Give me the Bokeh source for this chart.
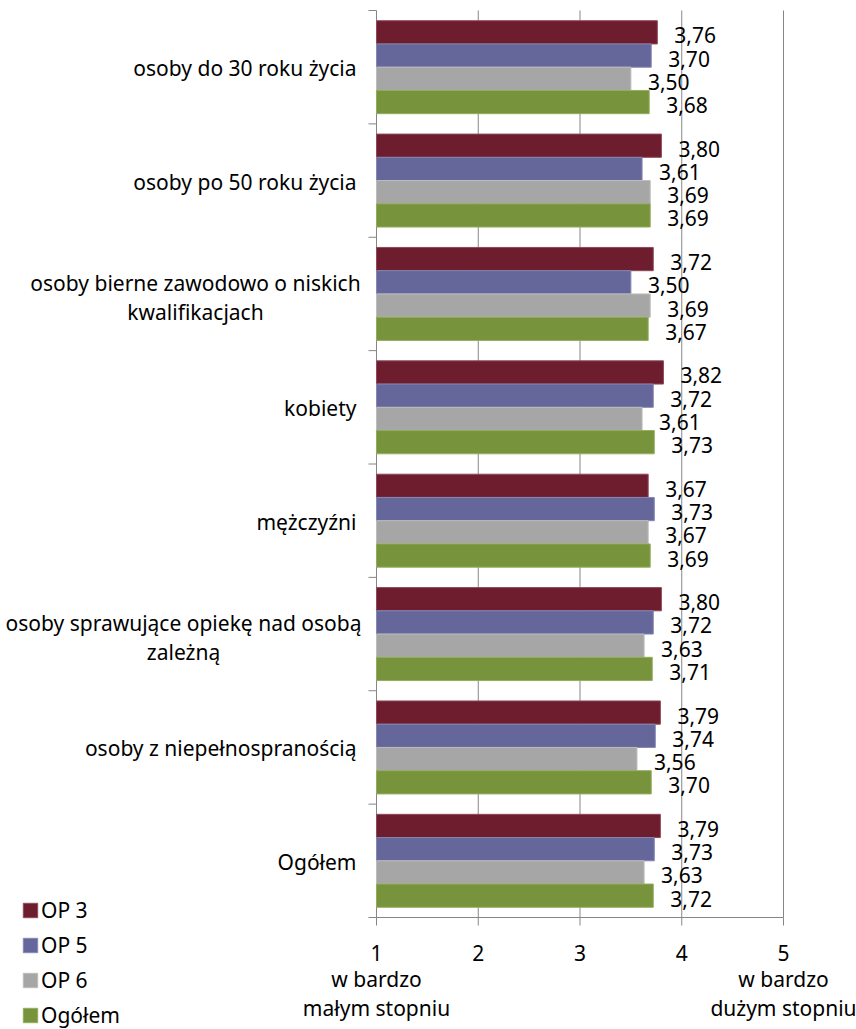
from math import pi
from bokeh.plotting import figure
from bokeh.models import Range1d, Legend, LegendItem
from bokeh.embed import file_html
from bokeh.resources import INLINE
from bokeh.core.properties import value

# ---- data ----
categories = [
    "osoby do 30 roku życia",
    "osoby po 50 roku życia",
    "osoby bierne zawodowo o niskich\nkwalifikacjach",
    "kobiety",
    "mężczyźni",
    "osoby sprawujące opiekę nad osobą\nzależną",
    "osoby z niepełnospranością",
    "Ogółem",
]
op3 = [3.76, 3.80, 3.72, 3.82, 3.67, 3.80, 3.79, 3.79]
op5 = [3.70, 3.61, 3.50, 3.72, 3.73, 3.72, 3.74, 3.73]
op6 = [3.50, 3.69, 3.69, 3.61, 3.67, 3.63, 3.56, 3.63]
ogolem = [3.68, 3.69, 3.67, 3.73, 3.69, 3.71, 3.70, 3.72]
series_names = ["OP 3", "OP 5", "OP 6", "Ogółem"]
series_values = [op3, op5, op6, ogolem]
series_colors = ["#6E1D2E", "#65669A", "#A6A6A6", "#77933C"]
series_edges = ["#8E4A5A", "#8587B4", "#BDBDBD", "#93AD5E"]
x_ticks = [1, 2, 3, 4, 5]
x_tick_labels = ["1", "2", "3", "4", "5"]
scale_low = ["w bardzo", "małym stopniu"]
scale_high = ["w bardzo", "dużym stopniu"]

# ---- layout ----
W, H = 856, 1029
FRAME_L, FRAME_R, FRAME_T, FRAME_B = 376, 783, 10, 917
FONT = "Noto Sans"
FS = "21px"
GRAY = "#868686"
n = len(categories)
x0d, x1d = x_ticks[0], x_ticks[-1]
ppx = (FRAME_R - FRAME_L) / (x1d - x0d)
ppy = (FRAME_B - FRAME_T) / n

p = figure(width=W, height=H,
           x_range=Range1d(x0d - FRAME_L / ppx, x1d + (W - FRAME_R) / ppx),
           y_range=Range1d(n + (H - FRAME_B) / ppy, -FRAME_T / ppy),
           min_border=0, output_backend="svg", toolbar_location=None,
           x_axis_location=None, y_axis_location=None)
p.outline_line_color = None
p.grid.visible = False

txt = dict(text_font=value(FONT), text_font_size=FS, text_color="#000000",
           text_baseline="middle")

# gridlines and axes
p.segment(x0=x_ticks[1:], y0=0, x1=x_ticks[1:], y1=n, line_color=GRAY, line_width=1)
p.segment(x0=[x0d, x0d], y0=[0, n], x1=[x0d, x1d], y1=[n, n], line_color=GRAY, line_width=1)
p.ray(x=x0d, y=list(range(n + 1)), length=8, length_units="screen", angle=pi,
      line_color=GRAY, line_width=1)
p.ray(x=x_ticks, y=n, length=8, length_units="screen", angle=-pi / 2,
      line_color=GRAY, line_width=1)
p.text(x=x_ticks, y=n, text=x_tick_labels, y_offset=35, text_align="center", **txt)
for xv, lines in ((x0d, scale_low), (x1d, scale_high)):
    p.text(x=xv, y=n, text=[lines[0]], y_offset=61, text_align="center", **txt)
    p.text(x=xv, y=n, text=[lines[1]], y_offset=90, text_align="center", **txt)

# bars
bar_h = 0.205
offsets = [-1.5 * bar_h, -0.5 * bar_h, 0.5 * bar_h, 1.5 * bar_h]
items = []
for name, vals, col, edge, off in zip(series_names, series_values, series_colors, series_edges, offsets):
    ys = [i + 0.5 + off for i in range(n)]
    r = p.hbar(y=ys, left=x0d, right=vals, height=bar_h,
               fill_color=col, line_color=edge, line_width=1)
    items.append(LegendItem(label=name, renderers=[r]))
    p.text(x=vals, y=ys, text=[f"{v:.2f}".replace(".", ",") for v in vals],
           x_offset=17, y_offset=3, text_align="left", **txt)

# category labels
centers2 = {2: -181, 5: -193}
for i, cat in enumerate(categories):
    lines = cat.split("\n")
    if len(lines) == 1:
        p.text(x=x0d, y=i + 0.5, text=[cat], x_offset=-20, y_offset=1,
               text_align="right", **txt)
    else:
        cx = centers2.get(i, -185)
        for j, ln in enumerate(lines):
            p.text(x=x0d, y=i + 0.5, text=[ln], x_offset=cx, y_offset=(-11 if j == 0 else 18),
                   text_align="center", **txt)

legend = Legend(items=items, location=(21, 0), orientation="vertical",
                glyph_width=18, glyph_height=18, label_standoff=2,
                spacing=7, padding=0, margin=0,
                border_line_color=None, background_fill_alpha=0,
                label_text_font=FONT, label_text_font_size=FS,
                label_text_color="#000000")
p.add_layout(legend)

open("out.html", "w").write(file_html(p, INLINE))
